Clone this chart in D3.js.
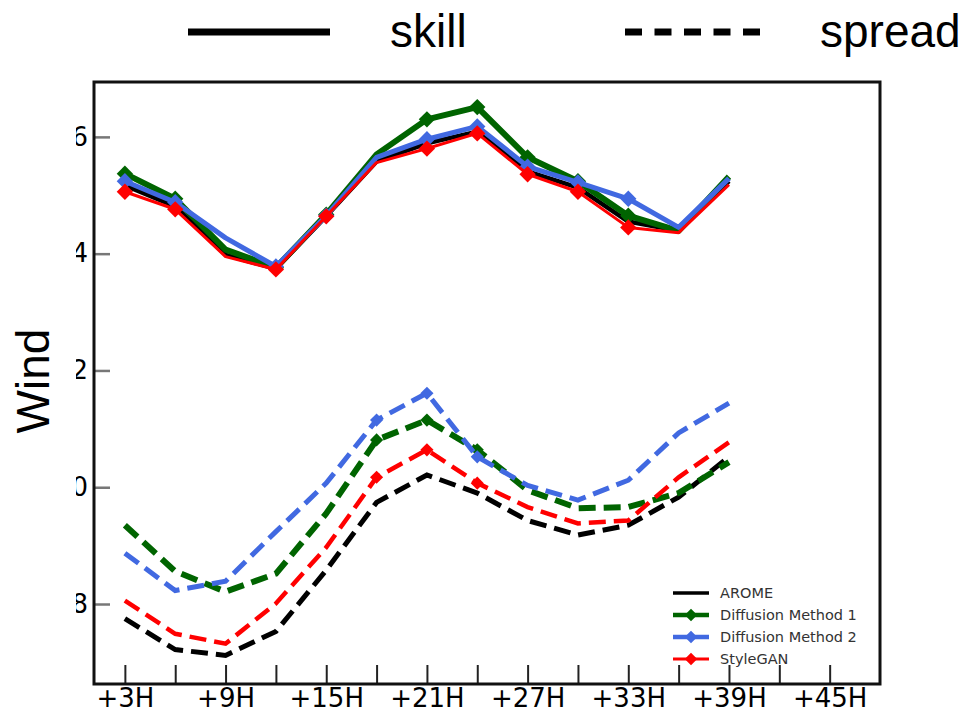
<!DOCTYPE html>
<html>
<head>
<meta charset="utf-8">
<script src="https://cdn.jsdelivr.net/npm/d3@7/dist/d3.min.js"></script>
<style>
  html, body { margin: 0; padding: 0; background: #fff; }
  svg { display: block; }
</style>
</head>
<body>
<svg id="chart" width="968" height="716"></svg>
<script>
// Lead times (hours)
const leadTimes = [3, 6, 9, 12, 15, 18, 21, 24, 27, 30, 33, 36, 39];
const xTickValues = [3, 6, 9, 12, 15, 18, 21, 24, 27, 30, 33, 36, 39, 42, 45];
const xLabelValues = [3, 9, 15, 21, 27, 33, 39, 45];
const yTickValues = [0.8, 1.0, 1.2, 1.4, 1.6];

// Skill (RMSE) per model
const skillArome = [1.517, 1.481, 1.398, 1.374, 1.464, 1.558, 1.589, 1.609, 1.541, 1.513, 1.455, 1.439, 1.524];
const skillDiff1 = [1.537, 1.494, 1.407, 1.376, 1.467, 1.570, 1.630, 1.651, 1.565, 1.524, 1.465, 1.439, 1.532];
const skillDiff2 = [1.524, 1.488, 1.427, 1.378, 1.465, 1.565, 1.596, 1.618, 1.549, 1.522, 1.494, 1.445, 1.529];
const skillStyle = [1.506, 1.476, 1.395, 1.373, 1.464, 1.556, 1.580, 1.606, 1.536, 1.506, 1.445, 1.436, 1.518];

// Ensemble spread per model
const spreadArome = [0.775, 0.722, 0.712, 0.753, 0.858, 0.974, 1.021, 0.990, 0.943, 0.918, 0.935, 0.983, 1.052];
const spreadDiff1 = [0.935, 0.856, 0.821, 0.852, 0.955, 1.081, 1.115, 1.064, 0.995, 0.964, 0.966, 0.990, 1.043];
const spreadDiff2 = [0.887, 0.823, 0.839, 0.924, 1.007, 1.115, 1.161, 1.052, 1.003, 0.978, 1.012, 1.093, 1.144];
const spreadStyle = [0.806, 0.749, 0.732, 0.801, 0.897, 1.017, 1.064, 1.007, 0.966, 0.938, 0.943, 1.017, 1.077];

// Indices carrying diamond markers
const skillMarkerIdx = [0, 1, 3, 4, 6, 7, 8, 9, 10];
const spreadMarkerIdx = [5, 6, 7];

const modelNames = ["AROME", "Diffusion Method 1", "Diffusion Method 2", "StyleGAN"];

const svg = d3.select("#chart");
const frame = { left: 94, right: 880, top: 82, bottom: 684 };

const x = d3.scaleLinear().domain([1.16, 48]).range([frame.left, frame.right]);
const y = d3.scaleLinear().domain([0.663, 1.694]).range([frame.bottom, frame.top]);

const models = [
  { name: modelNames[0], color: "#000000", skill: skillArome, spread: spreadArome, wSkill: 4.5, wSpread: 5, marker: false },
  { name: modelNames[1], color: "#006400", skill: skillDiff1, spread: spreadDiff1, wSkill: 6, wSpread: 6, marker: true },
  { name: modelNames[2], color: "#4169E1", skill: skillDiff2, spread: spreadDiff2, wSkill: 5, wSpread: 5, marker: true },
  { name: modelNames[3], color: "#FF0000", skill: skillStyle, spread: spreadStyle, wSkill: 3, wSpread: 4.5, marker: true }
];

const defs = svg.append("defs");
defs.append("clipPath").attr("id", "plot-clip")
  .append("rect")
  .attr("x", frame.left).attr("y", frame.top)
  .attr("width", frame.right - frame.left).attr("height", frame.bottom - frame.top);
// Left y-axis labels are only partly shown (cut at x = 76)
defs.append("clipPath").attr("id", "ylabel-clip")
  .append("rect")
  .attr("x", 76 - frame.left).attr("y", 0).attr("width", 45).attr("height", 716);

// Axes with inward ticks
const yAxis = d3.axisLeft(y).tickValues(yTickValues).tickSize(-16).tickPadding(6)
  .tickFormat(d3.format(".1f"));
const yG = svg.append("g")
  .attr("transform", `translate(${frame.left},0)`)
  .attr("clip-path", "url(#ylabel-clip)")
  .call(yAxis);
yG.select(".domain").remove();
yG.selectAll(".tick line").attr("stroke", "#777").attr("stroke-width", 2.5);
yG.selectAll(".tick text")
  .attr("fill", "#000")
  .style("font-family", "'DejaVu Sans', sans-serif")
  .style("font-size", "26px");

const xAxis = d3.axisBottom(x).tickValues(xTickValues).tickSize(-19).tickPadding(5)
  .tickFormat(d => xLabelValues.includes(d) ? `+${d}H` : "");
const xG = svg.append("g")
  .attr("transform", `translate(0,${frame.bottom})`)
  .call(xAxis);
xG.select(".domain").remove();
xG.selectAll(".tick line").attr("stroke", "#222").attr("stroke-width", 2);
xG.selectAll(".tick text")
  .attr("fill", "#000")
  .style("font-family", "'DejaVu Sans', sans-serif")
  .style("font-size", "26px");

// Series
const plot = svg.append("g").attr("clip-path", "url(#plot-clip)");
const line = d3.line().x((d, i) => x(leadTimes[i])).y(d => y(d));
const diamond = d3.symbol().type(d3.symbolDiamond2);

// Spread (dashed) below, skill (solid) on top
models.forEach(m => {
  plot.append("path")
    .datum(m.spread)
    .attr("d", line)
    .attr("fill", "none")
    .attr("stroke", m.color)
    .attr("stroke-width", m.wSpread)
    .attr("stroke-dasharray", "17,8");
  if (m.marker) {
    plot.selectAll(null)
      .data(spreadMarkerIdx)
      .join("path")
      .attr("d", diamond.size(110)())
      .attr("transform", i => `translate(${x(leadTimes[i])},${y(m.spread[i])})`)
      .attr("fill", m.color);
  }
});

models.forEach(m => {
  plot.append("path")
    .datum(m.skill)
    .attr("d", line)
    .attr("fill", "none")
    .attr("stroke", m.color)
    .attr("stroke-width", m.wSkill)
    .attr("stroke-linejoin", "round");
  if (m.marker) {
    plot.selectAll(null)
      .data(skillMarkerIdx)
      .join("path")
      .attr("d", diamond.size(170)())
      .attr("transform", i => `translate(${x(leadTimes[i])},${y(m.skill[i])})`)
      .attr("fill", m.color);
  }
});

// Frame
svg.append("rect")
  .attr("x", frame.left).attr("y", frame.top)
  .attr("width", frame.right - frame.left).attr("height", frame.bottom - frame.top)
  .attr("fill", "none").attr("stroke", "#111").attr("stroke-width", 3);

// Model legend (lower right)
const legend = svg.append("g").attr("transform", "translate(673,593)");
models.forEach((m, i) => {
  const g = legend.append("g").attr("transform", `translate(0,${i * 22})`);
  g.append("line").attr("x1", 0).attr("x2", 36).attr("y1", 0).attr("y2", 0)
    .attr("stroke", m.color).attr("stroke-width", m.name === "AROME" ? 3.5 : (m.name === "StyleGAN" ? 3 : 4.5));
  if (m.marker) {
    g.append("path").attr("d", diamond.size(100)()).attr("transform", "translate(18,0)").attr("fill", m.color);
  }
  g.append("text").attr("x", 47).attr("y", 5)
    .text(m.name)
    .attr("fill", "#333")
    .style("font-family", "'DejaVu Sans', sans-serif")
    .style("font-size", "14.5px");
});

// Line-style legend (top)
const styleFont = "'Liberation Sans', Arial, sans-serif";
svg.append("line").attr("x1", 188).attr("x2", 330).attr("y1", 32).attr("y2", 32)
  .attr("stroke", "#000").attr("stroke-width", 7);
svg.append("text").attr("x", 390).attr("y", 47).text("skill")
  .style("font-family", styleFont).style("font-size", "46px").attr("fill", "#000");
svg.append("line").attr("x1", 625).attr("x2", 760).attr("y1", 32).attr("y2", 32)
  .attr("stroke", "#000").attr("stroke-width", 7).attr("stroke-dasharray", "17,12.5");
svg.append("text").attr("x", 820).attr("y", 47).text("spread")
  .style("font-family", styleFont).style("font-size", "46px").attr("fill", "#000");

// Y-axis title
svg.append("text")
  .attr("transform", "translate(49,381) rotate(-90)")
  .attr("text-anchor", "middle")
  .text("Wind")
  .style("font-family", styleFont).style("font-size", "46px").attr("fill", "#000");
</script>
</body>
</html>
